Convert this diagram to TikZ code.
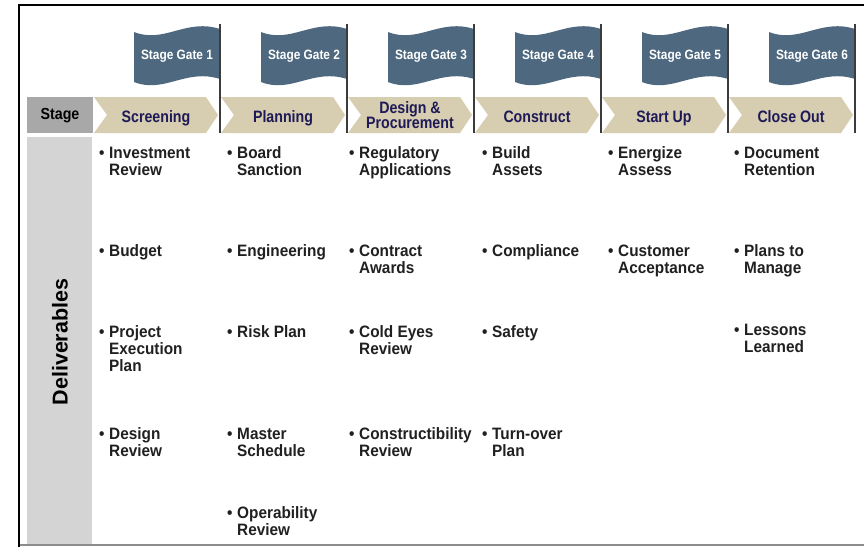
\documentclass[tikz,border=0pt]{standalone}
\usepackage{fontspec}
\setmainfont{Liberation Sans}
\usepackage{graphicx}
\definecolor{flagc}{RGB}{77,104,127}
\definecolor{chevc}{RGB}{215,205,176}
\definecolor{navyc}{RGB}{30,26,88}
\definecolor{stagegray}{RGB}{168,168,168}
\definecolor{delgray}{RGB}{212,212,212}
\definecolor{txtc}{RGB}{32,32,32}
\definecolor{polec}{RGB}{60,60,60}
\newcommand\sqz[2]{\scalebox{#1}[1]{#2}}
\newcommand\cell[1]{\sqz{0.93}{\begin{tabular}[t]{@{}l@{\hspace{5pt}}l@{}}#1\end{tabular}}}
\begin{document}
\begin{tikzpicture}[x=1pt,y=-1pt,
  gatetext/.style={text=white,font=\fontsize{13.5}{14}\selectfont\bfseries,anchor=base,inner sep=0pt},
  chevtext/.style={text=navyc,font=\fontsize{16.5}{15}\selectfont\bfseries,anchor=base,inner sep=0pt,align=center},
  itemtext/.style={text=txtc,font=\fontsize{16.5}{17}\selectfont\bfseries,anchor=base west,inner sep=0pt},
  pole/.style={draw=polec,line width=1.3pt},
  chev/.style={fill=chevc}]
\useasboundingbox (0,0) rectangle (864,547);
\fill[white] (0,0) rectangle (864,547);
% frame
\draw[line width=1.5pt,draw=gray!90] (19,545) -- (864,545);
\draw[line width=2.5pt,black] (19,547) -- (19,5) -- (864,5);
% left column
\fill[stagegray] (27,97) rectangle (93,133);
\node[text=black,font=\fontsize{16}{16}\selectfont\bfseries,anchor=base,inner sep=0pt] (stagelbl) at (60,119) {\sqz{0.89}{Stage}};
\fill[delgray] (27,137) rectangle (92,544);
\node[text=black,font=\fontsize{21.5}{22}\selectfont\bfseries,rotate=90,inner sep=0pt] (dellbl) at (60,342) {Deliverables};
% flags, poles and chevrons
\foreach \i in {1,...,6}{
  \pgfmathsetmacro\L{134+127*(\i-1)}
  \pgfmathsetmacro\P{220+127*(\i-1)}
  \pgfmathsetmacro\C{94+127*(\i-1)}
  \fill[flagc] (\L,32) .. controls (\L+30,44) and (\L+52,18) .. (\P,29) -- (\P,79) .. controls (\L+52,68) and (\L+30,94) .. (\L,82) -- cycle;
  \node[gatetext] (gate\i) at (\L+43,59) {\sqz{0.88}{Stage Gate \i}};
  \fill[chev] (\C,97) -- (\C+112,97) -- (\C+124,115) -- (\C+112,133) -- (\C,133) -- (\C+13,115) -- cycle;
  \draw[pole] (\P,24) -- (\P,133);
}
\node[chevtext] (s1) at (156,122) {\sqz{0.86}{Screening}};
\node[chevtext] (s2) at (283,122) {\sqz{0.86}{Planning}};
\node[chevtext] (s3) at (410,113) {\sqz{0.86}{\begin{tabular}[t]{@{}c@{}}Design \&\\Procurement\end{tabular}}};
\node[chevtext] (s4) at (537,122) {\sqz{0.86}{Construct}};
\node[chevtext] (s5) at (664,122) {\sqz{0.86}{Start Up}};
\node[chevtext] (s6) at (791,122) {\sqz{0.86}{Close Out}};
% deliverables
\node[itemtext] (a1) at (99,158) {\cell{\textbullet & Investment\\ & Review}};
\node[itemtext] (a2) at (99,256) {\cell{\textbullet & Budget}};
\node[itemtext] (a3) at (99,337) {\cell{\textbullet & Project\\ & Execution\\ & Plan}};
\node[itemtext] (a4) at (99,439) {\cell{\textbullet & Design\\ & Review}};
\node[itemtext] (b1) at (227,158) {\cell{\textbullet & Board\\ & Sanction}};
\node[itemtext] (b2) at (227,256) {\cell{\textbullet & Engineering}};
\node[itemtext] (b3) at (227,337) {\cell{\textbullet & Risk Plan}};
\node[itemtext] (b4) at (227,439) {\cell{\textbullet & Master\\ & Schedule}};
\node[itemtext] (b5) at (227,518) {\cell{\textbullet & Operability\\ & Review}};
\node[itemtext] (c1) at (349,158) {\cell{\textbullet & Regulatory\\ & Applications}};
\node[itemtext] (c2) at (349,256) {\cell{\textbullet & Contract\\ & Awards}};
\node[itemtext] (c3) at (349,337) {\cell{\textbullet & Cold Eyes\\ & Review}};
\node[itemtext] (c4) at (349,439) {\cell{\textbullet & Constructibility\\ & Review}};
\node[itemtext] (d1) at (482,158) {\cell{\textbullet & Build\\ & Assets}};
\node[itemtext] (d2) at (482,256) {\cell{\textbullet & Compliance}};
\node[itemtext] (d3) at (482,337) {\cell{\textbullet & Safety}};
\node[itemtext] (d4) at (482,439) {\cell{\textbullet & Turn-over\\ & Plan}};
\node[itemtext] (e1) at (608,158) {\cell{\textbullet & Energize\\ & Assess}};
\node[itemtext] (e2) at (608,256) {\cell{\textbullet & Customer\\ & Acceptance}};
\node[itemtext] (f1) at (734,158) {\cell{\textbullet & Document\\ & Retention}};
\node[itemtext] (f2) at (734,256) {\cell{\textbullet & Plans to\\ & Manage}};
\node[itemtext] (f3) at (734,335) {\cell{\textbullet & Lessons\\ & Learned}};
\end{tikzpicture}
\end{document}
